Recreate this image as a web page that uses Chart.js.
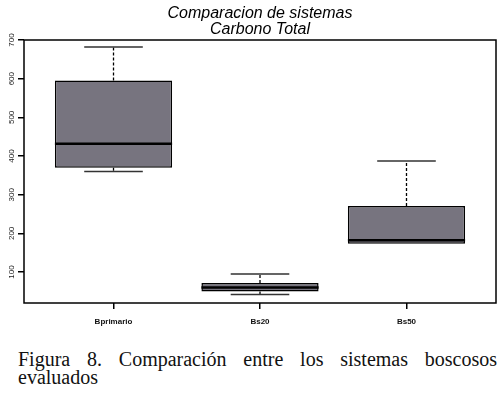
<!DOCTYPE html>
<html>
<head>
<meta charset="utf-8">
<script src="https://cdn.jsdelivr.net/npm/chart.js@4/dist/chart.umd.min.js"></script>
<style>
  body { margin: 0; background: #fff; width: 500px; height: 394px; position: relative; overflow: hidden; }
  #plot { position: absolute; left: 0; top: 0; width: 500px; height: 330px; }
  #caption { position: absolute; left: 18px; top: 350px; width: 479px;
             font-family: 'Liberation Serif', 'Times New Roman', serif; font-size: 20px; line-height: 18px; color: #111; }
  #caption .l1 { text-align: justify; text-align-last: justify; }
</style>
</head>
<body>
<div id="plot"><canvas id="boxChart" width="500" height="330"></canvas></div>
<div id="caption">
  <div class="l1">Figura 8. Comparación entre los sistemas boscosos</div>
  <div>evaluados</div>
</div>
<script>
// --- data ---
const categories = ['Bprimario', 'Bs20', 'Bs50'];
const minVals    = [360, 42, 173];
const q1Vals     = [370, 50, 173];
const medVals    = [432, 60, 182];
const q3Vals     = [595, 72, 271];
const maxVals    = [682, 95, 387];
const yTicks     = [100, 200, 300, 400, 500, 600, 700];

const boxColor = '#77747f';

// whiskers, caps, medians and frame
const boxParts = {
    id: 'boxParts',
    afterDatasetsDraw(chart) {
        const ctx = chart.ctx;
        const xs = chart.scales.x, ys = chart.scales.y;
        const bars = chart.getDatasetMeta(0).data;
        ctx.save();
        ctx.strokeStyle = '#000';
        categories.forEach((c, i) => {
            const x = xs.getPixelForValue(i + 1);
            const half = bars[i].width / 2;
            const cap = half / 2;
            // dashed whiskers
            ctx.lineWidth = 1.3;
            ctx.setLineDash([3, 2]);
            ctx.beginPath();
            if (maxVals[i] > q3Vals[i]) {
                ctx.moveTo(x, ys.getPixelForValue(q3Vals[i]));
                ctx.lineTo(x, ys.getPixelForValue(maxVals[i]));
            }
            if (minVals[i] < q1Vals[i]) {
                ctx.moveTo(x, ys.getPixelForValue(q1Vals[i]));
                ctx.lineTo(x, ys.getPixelForValue(minVals[i]));
            }
            ctx.stroke();
            ctx.setLineDash([]);
            // caps
            ctx.lineWidth = 1.6;
            ctx.strokeStyle = '#333';
            ctx.beginPath();
            ctx.moveTo(x - cap, ys.getPixelForValue(maxVals[i]));
            ctx.lineTo(x + cap, ys.getPixelForValue(maxVals[i]));
            if (minVals[i] < q1Vals[i]) {
                ctx.moveTo(x - cap, ys.getPixelForValue(minVals[i]));
                ctx.lineTo(x + cap, ys.getPixelForValue(minVals[i]));
            }
            ctx.stroke();
            // median
            ctx.strokeStyle = '#000';
            ctx.lineWidth = 2.5;
            ctx.beginPath();
            ctx.moveTo(x - half, ys.getPixelForValue(medVals[i]));
            ctx.lineTo(x + half, ys.getPixelForValue(medVals[i]));
            ctx.stroke();
        });
        // plot frame
        const a = chart.chartArea;
        ctx.lineWidth = 1.5;
        ctx.strokeRect(a.left, a.top, a.right - a.left, a.bottom - a.top);
        // rotated y tick labels
        ctx.fillStyle = '#222';
        ctx.font = '8px "Liberation Sans", Arial, sans-serif';
        ctx.textAlign = 'center';
        ctx.textBaseline = 'middle';
        yTicks.forEach(v => {
            ctx.save();
            ctx.translate(12, ys.getPixelForValue(v));
            ctx.rotate(-Math.PI / 2);
            ctx.fillText(String(v), 0, 0);
            ctx.restore();
        });
        ctx.restore();
    }
};

const ctx = document.getElementById('boxChart').getContext('2d');
const chart = new Chart(ctx, {
    type: 'bar',
    data: {
        datasets: [{
            data: categories.map((c, i) => ({ x: i + 1, y: [q1Vals[i], q3Vals[i]] })),
            backgroundColor: boxColor,
            borderColor: '#000',
            borderWidth: 1.5,
            borderSkipped: false,
            categoryPercentage: 1,
            barPercentage: 0.8
        }]
    },
    options: {
        responsive: false,
        animation: false,
        devicePixelRatio: 1,
        layout: { padding: { left: 0, right: 4, top: 0, bottom: 0 } },
        plugins: {
            legend: { display: false },
            tooltip: { enabled: false },
            title: {
                display: true,
                fullSize: false,
                text: ['Comparacion de sistemas', 'Carbono Total'],
                color: '#000',
                font: { family: '"Liberation Sans", Arial, sans-serif', size: 16, style: 'italic', weight: 'normal', lineHeight: 1 },
                padding: { top: 6, bottom: 2 }
            }
        },
        scales: {
            x: {
                type: 'linear',
                offset: false,
                min: 0.389,
                max: 3.611,
                afterBuildTicks: (s) => { s.ticks = categories.map((c, i) => ({ value: i + 1 })); },
                afterFit: (s) => { s.height = 27; },
                ticks: {
                    callback: (v) => categories[v - 1],
                    color: '#111',
                    font: { family: '"Liberation Sans", Arial, sans-serif', size: 8, weight: 'bold' },
                    padding: 8,
                    maxRotation: 0,
                    autoSkip: false
                },
                grid: { offset: false, drawOnChartArea: false, drawTicks: true, tickLength: 6, color: '#000', lineWidth: 1.5 },
                border: { display: false }
            },
            y: {
                min: 20,
                max: 700,
                afterBuildTicks: (s) => { s.ticks = yTicks.map(v => ({ value: v })); },
                afterFit: (s) => { s.width = 24; },
                ticks: { display: false },
                grid: { drawOnChartArea: false, drawTicks: true, tickLength: 6, color: '#000', lineWidth: 1.5 },
                border: { display: false }
            }
        }
    },
    plugins: [boxParts]
});
</script>
</body>
</html>
